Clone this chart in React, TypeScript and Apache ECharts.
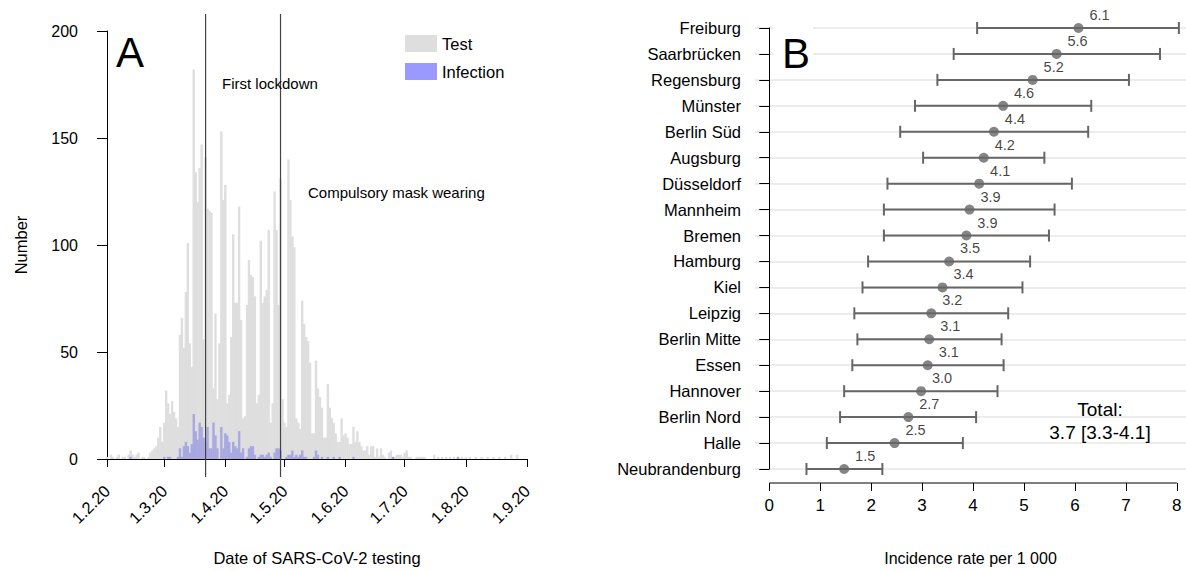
import React, { useEffect, useRef } from "react";
import * as echarts from "echarts";

// ---------- Panel A data (daily counts from 1 Feb 2020, day index 0) ----------
const monthTickDays = [0, 29, 60, 90, 121, 151, 182, 213];
const monthTickLabels = ["1.2.20", "1.3.20", "1.4.20", "1.5.20", "1.6.20", "1.7.20", "1.8.20", "1.9.20"];
const lockdownDay = 50;
const maskDay = 88;

const testCounts = [
  1, 0, 2, 1, 0, 1, 2, 0, 1, 1, 0, 2, 4, 2, 1, 2, 3, 0, 1, 1, 0, 1,
  3, 4, 5, 6, 10, 15, 8, 17, 32, 26, 21, 27, 22, 19, 15, 58, 66, 52, 78, 101, 54, 43,
  182, 134, 120, 136, 147, 56, 141, 117, 116, 115, 33, 68, 28, 54, 153, 121, 128, 26, 30, 57,
  105, 73, 73, 118, 65, 19, 20, 72, 93, 86, 85, 76, 26, 30, 102, 73, 76, 79, 107, 17, 26, 125,
  107, 72, 131,
  28, 17, 15, 140, 121, 104, 99, 19, 17, 14, 74, 63, 57, 55, 45, 12, 12, 46, 33, 29, 24, 10,
  10, 35, 24, 19, 17, 12, 8, 8, 19, 11, 12, 10, 7, 7, 15, 8, 13, 8, 6, 4, 4, 6,
  2, 6, 6, 1, 5, 1, 5, 2, 1, 0, 3, 4, 1, 1, 2, 2, 2, 1, 3, 4, 1, 1, 0, 0, 1, 1, 1, 1, 1, 0,
  0, 0, 0, 2, 0, 1, 0, 1, 0, 1, 0, 1, 0, 1, 0, 1, 0, 1, 0, 1, 0, 1, 0, 0, 1, 0, 0, 1, 0, 0,
  1, 0, 0, 1, 0, 0, 1, 0, 0, 1, 0, 0, 2, 0, 0, 2, 0, 0, 0, 0,
];

const infectionCounts = [
  0, 0, 0, 0, 0, 0, 0, 0, 0, 0,
  0, 0, 1, 0, 0, 0, 0, 0, 0, 0,
  0, 0, 0, 0, 0, 0, 0, 0, 0, 1,
  0, 1, 1, 0, 0, 0, 1, 5, 1, 6,
  8, 6, 3, 7, 21, 13, 9, 17, 15, 10,
  8, 15, 5, 5, 17, 11, 5, 0, 15, 5,
  12, 11, 8, 3, 8, 6, 5, 13, 3, 5,
  0, 1, 5, 6, 6, 2, 0, 1, 2, 2,
  1, 2, 3, 1, 0, 3, 5, 5, 4, 0,
  0, 1, 2, 2, 4, 1, 2, 1, 2, 4,
  1, 1, 0, 0, 0, 1, 4, 2, 0, 1,
  0, 0, 1, 0, 0, 1, 0, 0, 1, 0,
  0, 0, 0, 0, 0, 1, 0, 0, 0, 0,
  0, 0, 0, 0, 0, 0, 0, 0, 0, 0,
  0, 0, 0, 0, 0, 1, 0, 0, 0, 0,
  0, 0, 0, 0, 0, 0, 0, 0, 0, 0,
  0, 0, 0, 0, 0, 0, 0, 0, 0, 0,
  0, 0, 0, 0, 0, 0, 0, 0, 1, 0,
  0, 0, 0, 0, 0, 0, 0, 0, 0, 0,
  0, 0, 0, 0, 0, 0, 0, 0, 0, 0,
  0, 0, 0, 0, 0, 0, 0, 0, 0, 0,
  0, 0, 0,
];

// ---------- Panel B data ----------
const cities = [
  "Freiburg", "Saarbrücken", "Regensburg", "Münster", "Berlin Süd", "Augsburg",
  "Düsseldorf", "Mannheim", "Bremen", "Hamburg", "Kiel", "Leipzig", "Berlin Mitte",
  "Essen", "Hannover", "Berlin Nord", "Halle", "Neubrandenburg",
];
const rates = [6.07, 5.64, 5.17, 4.59, 4.41, 4.21, 4.12, 3.93, 3.87, 3.53, 3.4, 3.18, 3.14, 3.11, 2.98, 2.73, 2.46, 1.47];
const ciLow = [4.08, 3.62, 3.3, 2.86, 2.57, 3.02, 2.32, 2.25, 2.25, 1.94, 1.83, 1.67, 1.73, 1.63, 1.47, 1.39, 1.13, 0.73];
const ciHigh = [8.04, 7.67, 7.06, 6.32, 6.26, 5.4, 5.94, 5.6, 5.49, 5.12, 4.97, 4.69, 4.56, 4.6, 4.48, 4.06, 3.8, 2.22];
const rateTicks = [0, 1, 2, 3, 4, 5, 6, 7, 8];
const totalText = ["Total:", "3.7 [3.3-4.1]"];

const FONT = "'Liberation Sans', Arial, Helvetica, sans-serif";

export default function App() {
  const ref = useRef<HTMLDivElement>(null);

  useEffect(() => {
    if (!ref.current) return;
    const chart = echarts.init(ref.current, undefined, { renderer: "svg" });

    const option: any = {
      animation: false,
      textStyle: { fontFamily: FONT, color: "#000" },
      legend: {
        orient: "vertical",
        left: 400,
        top: 30,
        itemWidth: 32,
        itemHeight: 17,
        itemGap: 11,
        textStyle: { fontFamily: FONT, fontSize: 16.5, color: "#000" },
        data: [
          { name: "Test", icon: "rect", itemStyle: { color: "#dedede" } },
          { name: "Infection", icon: "rect", itemStyle: { color: "#9999ff" } },
        ],
      },
      grid: [
        { left: 107, top: 31, width: 420, height: 443 },
        { left: 755, top: 28, width: 431, height: 455 },
      ],
      xAxis: [
        {
          gridIndex: 0,
          type: "value",
          min: 0,
          max: 213,
          offset: 18,
          axisLine: { show: true, lineStyle: { color: "#000", width: 1 } },
          axisTick: { show: true, customValues: monthTickDays, length: 8, lineStyle: { color: "#000" } },
          axisLabel: {
            customValues: monthTickDays,
            formatter: (v: number) => monthTickLabels[monthTickDays.indexOf(Math.round(v))] ?? "",
            rotate: 45,
            fontSize: 16.5,
            color: "#000",
            margin: 11,
            fontFamily: FONT,
          },
          splitLine: { show: false },
          name: "Date of SARS-CoV-2 testing",
          nameLocation: "middle",
          nameGap: 72,
          nameTextStyle: { fontSize: 16.5, color: "#000", fontFamily: FONT },
        },
        {
          gridIndex: 1,
          type: "value",
          min: -0.28,
          max: 8.18,
          offset: 14,
          axisLine: { show: false },
          axisTick: { show: true, customValues: rateTicks, length: 8, lineStyle: { color: "#000" } },
          axisLabel: { customValues: rateTicks, fontSize: 17, color: "#000", margin: 14, fontFamily: FONT },
          splitLine: { show: false },
          name: "Incidence rate per 1 000",
          nameLocation: "middle",
          nameGap: 67,
          nameTextStyle: { fontSize: 16, color: "#000", fontFamily: FONT },
        },
      ],
      yAxis: [
        {
          gridIndex: 0,
          type: "value",
          min: 0,
          max: 200,
          interval: 50,
          offset: 16,
          axisLine: { show: true, lineStyle: { color: "#000", width: 1 } },
          axisTick: { show: true, length: 10, lineStyle: { color: "#000" } },
          axisLabel: { fontSize: 16, color: "#000", margin: 13, fontFamily: FONT },
          splitLine: { show: false },
          name: "Number",
          nameLocation: "middle",
          nameGap: 62,
          nameTextStyle: { fontSize: 16.5, color: "#000", fontFamily: FONT },
        },
        {
          gridIndex: 1,
          type: "category",
          data: cities,
          inverse: true,
          boundaryGap: false,
          axisLine: { show: true, lineStyle: { color: "#000", width: 1 } },
          axisTick: { show: true, length: 10, lineStyle: { color: "#000" } },
          axisLabel: { fontSize: 16.5, color: "#000", margin: 14, fontFamily: FONT },
          splitLine: { show: true, lineStyle: { color: "#e6e6e6", width: 1.5 } },
        },
      ],
      series: [
        {
          name: "Test",
          type: "bar",
          xAxisIndex: 0,
          yAxisIndex: 0,
          barWidth: 2.4,
          barGap: "-100%",
          itemStyle: { color: "#dedede" },
          data: testCounts.map((v, i) => [i, v]),
        },
        {
          name: "Infection",
          type: "bar",
          xAxisIndex: 0,
          yAxisIndex: 0,
          barWidth: 2.4,
          barGap: "-100%",
          itemStyle: { color: "#a8a8e2" },
          data: infectionCounts.map((v, i) => [i, v]),
        },
        {
          name: "ci",
          type: "custom",
          xAxisIndex: 1,
          yAxisIndex: 1,
          data: cities.map((_, i) => [ciLow[i], ciHigh[i], i]),
          encode: { x: [0, 1], y: 2 },
          renderItem: (params: any, api: any) => {
            const p1 = api.coord([api.value(0), api.value(2)]);
            const p2 = api.coord([api.value(1), api.value(2)]);
            const style = { stroke: "#666", lineWidth: 2 };
            const cap = 6;
            return {
              type: "group",
              children: [
                { type: "line", shape: { x1: p1[0], y1: p1[1], x2: p2[0], y2: p2[1] }, style },
                { type: "line", shape: { x1: p1[0], y1: p1[1] - cap, x2: p1[0], y2: p1[1] + cap }, style },
                { type: "line", shape: { x1: p2[0], y1: p2[1] - cap, x2: p2[0], y2: p2[1] + cap }, style },
              ],
            };
          },
        },
        {
          name: "rate",
          type: "scatter",
          xAxisIndex: 1,
          yAxisIndex: 1,
          symbol: "circle",
          symbolSize: 10,
          itemStyle: { color: "#666" },
          label: {
            show: true,
            position: "inside",
            offset: [21, -13],
            formatter: (p: any) => Number(p.value[0]).toFixed(1),
            fontSize: 14.5,
            color: "#111",
            fontFamily: FONT,
          },
          data: cities.map((c, i) => [rates[i], i]),
          z: 5,
        },
      ],
    };

    chart.setOption(option);

    const xl = chart.convertToPixel({ xAxisIndex: 0 }, lockdownDay) as number;
    const xm = chart.convertToPixel({ xAxisIndex: 0 }, maskDay) as number;
    const yTop = chart.convertToPixel({ yAxisIndex: 0 }, 208) as number;
    const yBot = (chart.convertToPixel({ yAxisIndex: 0 }, 0) as number) + 18;
    const bx0 = chart.convertToPixel({ xAxisIndex: 1 }, rateTicks[0]) as number;
    const bx1 = chart.convertToPixel({ xAxisIndex: 1 }, rateTicks[rateTicks.length - 1]) as number;
    const byAxis = (chart.convertToPixel({ yAxisIndex: 1 }, cities[cities.length - 1]) as number) + 14;

    chart.setOption({
      graphic: [
        { type: "line", z: 10, shape: { x1: xl, y1: yTop, x2: xl, y2: yBot }, style: { stroke: "#444", lineWidth: 1.2 } },
        { type: "line", z: 10, shape: { x1: xm, y1: yTop, x2: xm, y2: yBot }, style: { stroke: "#444", lineWidth: 1.2 } },
        { type: "line", z: 10, shape: { x1: bx0, y1: byAxis, x2: bx1, y2: byAxis }, style: { stroke: "#000", lineWidth: 1 } },
        { type: "text", z: 10, left: 116, top: 31, style: { text: "A", fontSize: 42, fontFamily: FONT, fill: "#000" } },
        { type: "text", z: 10, left: 222, top: 76, style: { text: "First lockdown", fontSize: 15, fontFamily: FONT, fill: "#000" } },
        { type: "text", z: 10, left: 308, top: 185, style: { text: "Compulsory mask wearing", fontSize: 15, fontFamily: FONT, fill: "#000" } },
        { type: "rect", z: 10, shape: { x: 773, y: 24, width: 40, height: 44 }, style: { fill: "#fff" } },
        { type: "text", z: 11, left: 782, top: 32, style: { text: "B", fontSize: 42, fontFamily: FONT, fill: "#000" } },
        {
          type: "text", z: 10, x: 1100, y: 421,
          style: { text: totalText.join("\n"), fontSize: 19, lineHeight: 23, fontFamily: FONT, fill: "#000", align: "center", verticalAlign: "middle" },
        },
      ],
    });

    return () => chart.dispose();
  }, []);

  return <div ref={ref} style={{ position: "absolute", left: 0, top: 0, width: 1186, height: 571 }} />;
}
